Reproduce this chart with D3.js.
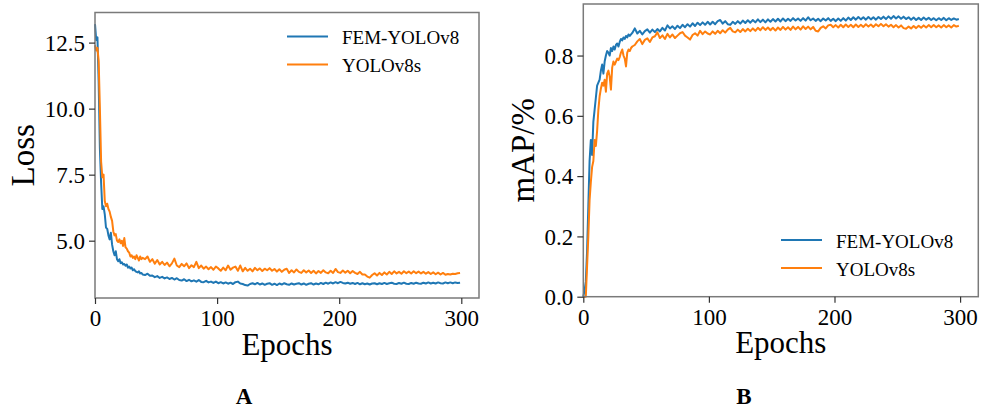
<!DOCTYPE html>
<html>
<head>
<meta charset="utf-8">
<script src="https://cdn.jsdelivr.net/npm/d3@7"></script>
<style>
  body { margin: 0; background: #fff; }
  svg { display: block; }
</style>
</head>
<body>
<svg id="fig" width="981" height="412"></svg>
<script>

// epochs: every epoch for the first 40, then every other epoch up to 299
var epochs = d3.range(0, 40).concat(d3.range(41, 300, 2));

var series_names = ["FEM-YOLOv8", "YOLOv8s"];
var series_colors = ["#1f77b4", "#ff7f0e"];

var x_ticks = [0, 100, 200, 300];
var loss_ticks = [5.0, 7.5, 10.0, 12.5];
var map_ticks = [0.0, 0.2, 0.4, 0.6, 0.8];

var loss_fem = [
  13.2, 12.6, 12.7, 11.0, 8.5, 7.2, 6.2, 6.3, 6.0, 5.5,
  5.45, 5.2, 5.05, 5.3, 4.85, 4.6, 4.45, 4.6, 4.3, 4.22,
  4.3, 4.15, 4.18, 4.1, 4.12, 4.05, 4.1, 3.98, 4.02, 3.95,
  3.98, 3.88, 3.92, 3.85, 3.82, 3.8, 3.84, 3.76, 3.78, 3.72,
  3.70, 3.75, 3.67, 3.68, 3.62, 3.66, 3.59, 3.63, 3.57, 3.61,
  3.55, 3.59, 3.53, 3.58, 3.51, 3.49, 3.54, 3.47, 3.52, 3.46,
  3.50, 3.45, 3.51, 3.44, 3.43, 3.48, 3.42, 3.45, 3.40, 3.45,
  3.39, 3.43, 3.38, 3.42, 3.37, 3.41, 3.36, 3.43, 3.45, 3.38,
  3.36, 3.32, 3.30, 3.36, 3.39, 3.35, 3.40, 3.34, 3.38, 3.33,
  3.37, 3.39, 3.33, 3.37, 3.32, 3.38, 3.34, 3.39, 3.35, 3.33,
  3.38, 3.34, 3.37, 3.39, 3.34, 3.38, 3.33, 3.37, 3.39, 3.34,
  3.38, 3.35, 3.40, 3.36, 3.41, 3.37, 3.42, 3.38, 3.43, 3.39,
  3.44, 3.40, 3.38, 3.41, 3.37, 3.40, 3.36, 3.40, 3.35, 3.39,
  3.35, 3.38, 3.34, 3.38, 3.39, 3.35, 3.39, 3.36, 3.40, 3.36,
  3.39, 3.41, 3.37, 3.36, 3.40, 3.37, 3.41, 3.37, 3.36, 3.40,
  3.37, 3.41, 3.38, 3.37, 3.41, 3.38, 3.42, 3.38, 3.41, 3.38,
  3.42, 3.39, 3.38, 3.42, 3.39, 3.42, 3.39, 3.42, 3.40, 3.41
];

var loss_yolo = [
  12.4, 12.2, 12.3, 11.8, 10.0, 8.0, 7.4, 7.5, 6.5, 6.3,
  6.4, 6.2, 6.1, 5.9, 5.75, 5.35, 5.2, 5.25, 5.0, 4.95,
  5.05, 4.9, 5.0, 4.8, 5.1, 4.75, 4.7, 4.6, 4.55, 4.4,
  4.45, 4.35, 4.4, 4.3, 4.45, 4.35, 4.25, 4.4, 4.3, 4.35,
  4.30, 4.40, 4.20, 4.30, 4.13, 4.27, 4.10, 4.20, 4.08, 4.17,
  4.03, 4.14, 4.32, 4.06, 4.00, 4.12, 4.03, 4.14, 3.96, 4.07,
  4.00, 4.20, 3.96, 4.06, 3.94, 4.02, 3.92, 4.00, 3.90, 4.02,
  3.95, 3.86, 3.98, 3.88, 4.06, 3.90, 3.98, 4.02, 3.86, 4.06,
  3.84, 3.97, 3.86, 3.94, 3.84, 3.97, 3.88, 3.95, 3.85, 3.94,
  3.88, 3.96, 3.86, 3.93, 3.83, 3.92, 3.82, 3.90, 3.94, 3.78,
  3.88, 3.80, 3.91, 3.82, 3.78, 3.88, 3.80, 3.87, 3.78, 3.86,
  3.76, 3.85, 3.78, 3.88, 3.80, 3.77, 3.86, 3.78, 3.93, 3.81,
  3.78, 3.87, 3.79, 3.86, 3.77, 3.85, 3.78, 3.74, 3.82, 3.72,
  3.72, 3.64, 3.60, 3.70, 3.77, 3.68, 3.78, 3.70, 3.80, 3.72,
  3.82, 3.74, 3.84, 3.76, 3.82, 3.75, 3.84, 3.77, 3.83, 3.76,
  3.84, 3.77, 3.83, 3.76, 3.82, 3.75, 3.81, 3.74, 3.80, 3.73,
  3.79, 3.72, 3.78, 3.71, 3.74, 3.72, 3.75, 3.74, 3.77, 3.78
];

var map_fem = [
  0.0, 0.02, 0.05, 0.15, 0.3, 0.45, 0.52, 0.47, 0.58, 0.62,
  0.66, 0.70, 0.71, 0.72, 0.75, 0.77, 0.74, 0.78, 0.80, 0.815,
  0.81, 0.80, 0.825, 0.815, 0.83, 0.82, 0.835, 0.84, 0.83, 0.845,
  0.855, 0.85, 0.86, 0.855, 0.865, 0.86, 0.87, 0.865, 0.87, 0.875,
  0.89, 0.873, 0.882, 0.87, 0.881, 0.887, 0.876, 0.886, 0.878, 0.888,
  0.88, 0.892, 0.883, 0.9, 0.89, 0.897, 0.888, 0.899, 0.891, 0.902,
  0.894, 0.904, 0.896, 0.907, 0.898, 0.909, 0.901, 0.91, 0.902, 0.912,
  0.903, 0.912, 0.904, 0.914, 0.918, 0.906, 0.914, 0.904, 0.902, 0.912,
  0.905, 0.914, 0.906, 0.916, 0.908, 0.917, 0.909, 0.918, 0.91, 0.92,
  0.911, 0.919, 0.91, 0.92, 0.912, 0.921, 0.913, 0.922, 0.913, 0.923,
  0.914, 0.922, 0.915, 0.924, 0.916, 0.923, 0.915, 0.924, 0.916, 0.927,
  0.917, 0.923, 0.915, 0.922, 0.914, 0.923, 0.916, 0.924, 0.915, 0.922,
  0.914, 0.923, 0.915, 0.924, 0.916, 0.926, 0.918, 0.927, 0.919, 0.928,
  0.92, 0.927, 0.919, 0.928, 0.92, 0.927, 0.919, 0.928, 0.921, 0.929,
  0.921, 0.93, 0.922, 0.931, 0.923, 0.93, 0.922, 0.929, 0.921, 0.927,
  0.919, 0.926, 0.918, 0.925, 0.918, 0.926, 0.919, 0.925, 0.918, 0.924,
  0.917, 0.924, 0.918, 0.925, 0.917, 0.924, 0.918, 0.923, 0.919, 0.921
];

var map_yolo = [
  0.0, 0.0, 0.0, 0.1, 0.2, 0.32, 0.38, 0.43, 0.45, 0.52,
  0.50, 0.55, 0.62, 0.665, 0.69, 0.71, 0.70, 0.72, 0.68, 0.74,
  0.75, 0.73, 0.687, 0.76, 0.78, 0.77, 0.78, 0.79, 0.785, 0.795,
  0.81, 0.82, 0.80, 0.79, 0.764, 0.81, 0.82, 0.815, 0.825, 0.83,
  0.835, 0.847, 0.855, 0.838, 0.852, 0.857, 0.845, 0.86, 0.864, 0.877,
  0.858, 0.867, 0.855, 0.872, 0.86, 0.87, 0.858, 0.866, 0.874, 0.878,
  0.866, 0.86, 0.853, 0.868, 0.874, 0.866, 0.882, 0.871, 0.88, 0.873,
  0.87, 0.88, 0.872, 0.882, 0.874, 0.884, 0.876, 0.886, 0.892, 0.88,
  0.877, 0.886, 0.878, 0.888, 0.88, 0.889, 0.881, 0.89, 0.882, 0.892,
  0.884, 0.894, 0.885, 0.893, 0.884, 0.892, 0.883, 0.893, 0.885, 0.895,
  0.886, 0.894, 0.885, 0.896, 0.887, 0.895, 0.886, 0.897, 0.888, 0.896,
  0.887, 0.895, 0.882, 0.88, 0.892, 0.897, 0.89, 0.9, 0.902, 0.894,
  0.901, 0.893, 0.902, 0.894, 0.903, 0.895, 0.902, 0.894, 0.903, 0.895,
  0.902, 0.895, 0.904, 0.896, 0.903, 0.895, 0.904, 0.897, 0.905, 0.897,
  0.904, 0.896, 0.902, 0.894, 0.901, 0.893, 0.9, 0.891, 0.889, 0.896,
  0.89, 0.898, 0.891, 0.899, 0.892, 0.9, 0.893, 0.901, 0.894, 0.901,
  0.894, 0.9, 0.893, 0.901, 0.894, 0.9, 0.893, 0.901, 0.896, 0.899
];

var serif = "'Liberation Serif', 'Times New Roman', 'DejaVu Serif', serif";

function append_text( grp, x, y, text, size, align='start' ){
    return grp.append("text")
              .style("fill", "black")
              .style("font-size", size + "px")
              .attr("font-family", serif)
              .attr("text-anchor", align)
              .attr("transform", "translate(" + x + "," + y + ")")
              .text( text );
}

function draw_panel( svg, p ){
    let g = svg.append("g");
    let x = d3.scaleLinear().domain([0, 314.5]).range([p.left, p.right]);
    let y = d3.scaleLinear().domain(p.ydomain).range([p.bottom, p.top]);

    // curves
    let line = d3.line()
        .x(function(d){ return x(d[0]); })
        .y(function(d){ return y(d[1]); });

    p.series.forEach( function(vals, k){
        let pts = epochs.map( function(e, i){ return [e, vals[i]]; } );
        g.append("path")
         .datum(pts)
         .attr("d", line)
         .attr("fill", "none")
         .attr("stroke", series_colors[k])
         .attr("stroke-width", 2)
         .attr("stroke-linejoin", "round");
    });

    // frame
    g.append("rect")
     .attr("x", p.left).attr("y", p.top)
     .attr("width", p.right - p.left).attr("height", p.bottom - p.top)
     .attr("fill", "none")
     .attr("stroke", "#7a7a7a")
     .attr("stroke-width", 1.5);

    // axes
    let xa = g.append("g")
        .attr("transform", "translate(0," + p.bottom + ")")
        .call( d3.axisBottom(x).tickValues(x_ticks).tickSize(6).tickPadding(4).tickFormat(d3.format("d")) );
    let ya = g.append("g")
        .attr("transform", "translate(" + p.left + ",0)")
        .call( d3.axisLeft(y).tickValues(p.yticks).tickSize(6).tickPadding(4).tickFormat(d3.format(".1f")) );

    [xa, ya].forEach( function(a){
        a.select(".domain").remove();
        a.selectAll(".tick line").attr("stroke", "#333").attr("stroke-width", 1.2);
        a.selectAll(".tick text")
         .attr("font-family", serif)
         .style("font-size", "23px")
         .attr("fill", "black");
    });
    xa.selectAll(".tick text").attr("dy", "0.8em");
    ya.selectAll(".tick text").attr("dy", "0.34em");

    // axis titles
    append_text( g, (p.left + p.right)/2, p.xlabel_y, "Epochs", 31, "middle" );
    g.append("text")
     .style("fill", "black")
     .style("font-size", "33px")
     .attr("font-family", serif)
     .attr("text-anchor", "middle")
     .attr("transform", "translate(" + p.ylabel_x + "," + ((p.top + p.bottom)/2) + ") rotate(-90)")
     .text( p.ylabel );

    // legend
    series_names.forEach( function(n, k){
        let ly = p.legend[1] + k*28;
        g.append("line")
         .attr("x1", p.legend[0]).attr("x2", p.legend[0] + 41)
         .attr("y1", ly).attr("y2", ly)
         .attr("stroke", series_colors[k])
         .attr("stroke-width", 2);
        append_text( g, p.legend[0] + 55, ly + 7.5, n, 19 );
    });

    // panel letter
    g.append("text")
     .style("fill", "black")
     .style("font-size", "23px")
     .style("font-weight", "bold")
     .attr("font-family", serif)
     .attr("text-anchor", "middle")
     .attr("transform", "translate(" + p.letter_x + ",404)")
     .text( p.letter );
}

var svg = d3.select("#fig");

draw_panel( svg, { left: 95, right: 479, top: 12.5, bottom: 298,
                   ydomain: [2.83, 13.64], yticks: loss_ticks,
                   series: [loss_fem, loss_yolo],
                   xlabel_y: 355, ylabel: "Loss", ylabel_x: 34,
                   legend: [287, 36.5], letter: "A", letter_x: 244 } );

draw_panel( svg, { left: 583.3, right: 978.3, top: 4, bottom: 296.7,
                   ydomain: [0, 0.971], yticks: map_ticks,
                   series: [map_fem, map_yolo],
                   xlabel_y: 353, ylabel: "mAP/%", ylabel_x: 534,
                   legend: [781, 240], letter: "B", letter_x: 744 } );

</script>
</body>
</html>
